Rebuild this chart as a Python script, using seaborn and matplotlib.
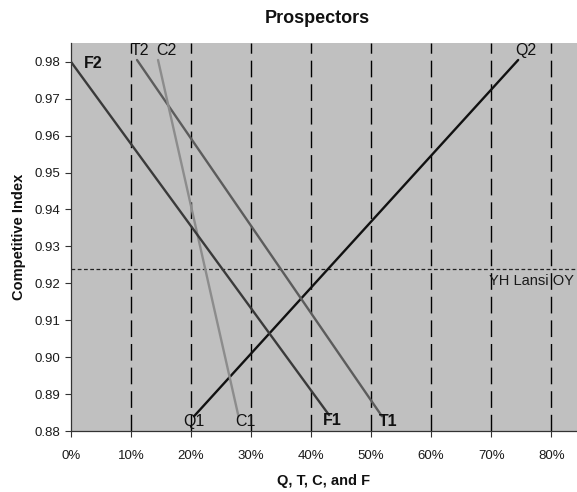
import matplotlib
matplotlib.use("Agg")
import matplotlib.pyplot as plt
import seaborn as sns
import pandas as pd
from matplotlib.ticker import FuncFormatter

# Line endpoints (share, competitive index)
series = ["Q", "T", "C", "F"]
start_share = [0.205, 0.110, 0.145, 0.000]
start_index = [0.8840, 0.9805, 0.9805, 0.9800]
end_share = [0.745, 0.518, 0.279, 0.430]
end_index = [0.9805, 0.8840, 0.8840, 0.8843]
start_labels = ["Q1", "T2", "C2", "F2"]
end_labels = ["Q2", "T1", "C1", "F1"]
benchmark_name = "YH Lansi OY"
benchmark_index = 0.924
x_ticks = [0, 0.1, 0.2, 0.3, 0.4, 0.5, 0.6, 0.7, 0.8]
y_ticks = [0.88, 0.89, 0.90, 0.91, 0.92, 0.93, 0.94, 0.95, 0.96, 0.97, 0.98]

rows = []
for s, x0, y0, x1, y1 in zip(series, start_share, start_index, end_share, end_index):
    rows.append({"series": s, "share": x0, "index": y0, "order": 0})
    rows.append({"series": s, "share": x1, "index": y1, "order": 1})
df = pd.DataFrame(rows)

sns.set_theme(style="white")
plt.rcParams["font.family"] = ["Liberation Sans", "DejaVu Sans"]

fig = plt.figure(figsize=(5.77, 4.92), dpi=100)
ax = fig.add_axes([71 / 577, 1 - 431 / 492, 1 - 71 / 577, (431 - 43) / 492])
ax.set_facecolor("#c0c0c0")

palette = {"Q": "#111111", "T": "#5c5c5c", "C": "#8c8c8c", "F": "#3a3a3a"}

# vertical dashed grid lines
for xt in x_ticks[1:]:
    ax.axvline(xt, color="black", lw=1.0, dashes=(12, 5), zorder=1)

sns.lineplot(data=df, x="share", y="index", hue="series", units="series",
             estimator=None, sort=False, palette=palette, linewidth=1.7,
             legend=False, ax=ax, zorder=3)

ax.axhline(benchmark_index, color="#222222", lw=0.9, dashes=(3, 2), zorder=2)
ax.text(0.838, benchmark_index - 0.0035, benchmark_name, ha="right", va="center",
        fontsize=10.5, color="#1a1a1a", zorder=4)

# endpoint labels
lab_style = {
    "Q1": dict(dx=-0.001, dy=-0.0015, weight="normal"),
    "Q2": dict(dx=0.012, dy=0.0025, weight="normal"),
    "T2": dict(dx=0.004, dy=0.0025, weight="normal"),
    "C2": dict(dx=0.014, dy=0.0025, weight="normal"),
    "F2": dict(dx=0.037, dy=-0.0005, weight="bold"),
    "T1": dict(dx=0.010, dy=-0.0015, weight="bold"),
    "C1": dict(dx=0.011, dy=-0.0015, weight="normal"),
    "F1": dict(dx=0.006, dy=-0.0015, weight="bold"),
}
for lab, x, y in zip(start_labels + end_labels, start_share + end_share,
                     start_index + end_index):
    st = lab_style[lab]
    ax.text(x + st["dx"], y + st["dy"], lab, ha="center", va="center",
            fontsize=11.5, fontweight=st["weight"], color="#111111", zorder=5)

ax.set_xlim(0, 0.843)
ax.set_ylim(0.88, 0.9851)
ax.set_xticks(x_ticks)
ax.set_yticks(y_ticks)
ax.xaxis.set_major_formatter(FuncFormatter(lambda v, p: f"{v * 100:.0f}%"))
ax.yaxis.set_major_formatter(FuncFormatter(lambda v, p: f"{v:.2f}"))
ax.tick_params(axis="both", direction="out", length=4, width=0.8, color="#333333",
               labelsize=9.5, labelcolor="#1a1a1a", bottom=True, left=True)
ax.tick_params(axis="x", pad=10)

for side in ["top", "right"]:
    ax.spines[side].set_visible(False)
for side in ["left", "bottom"]:
    ax.spines[side].set_color("#333333")
    ax.spines[side].set_linewidth(0.9)

ax.set_xlabel("Q, T, C, and F", fontsize=10.5, fontweight="bold", labelpad=8,
              color="#111111")
ax.set_ylabel("Competitive Index", fontsize=10.5, fontweight="bold", labelpad=6,
              color="#111111")
fig.text(0.55, 0.962, "Prospectors", ha="center", va="center", fontsize=13,
         fontweight="bold", color="#111111")

fig.savefig("out.png", dpi=100)
